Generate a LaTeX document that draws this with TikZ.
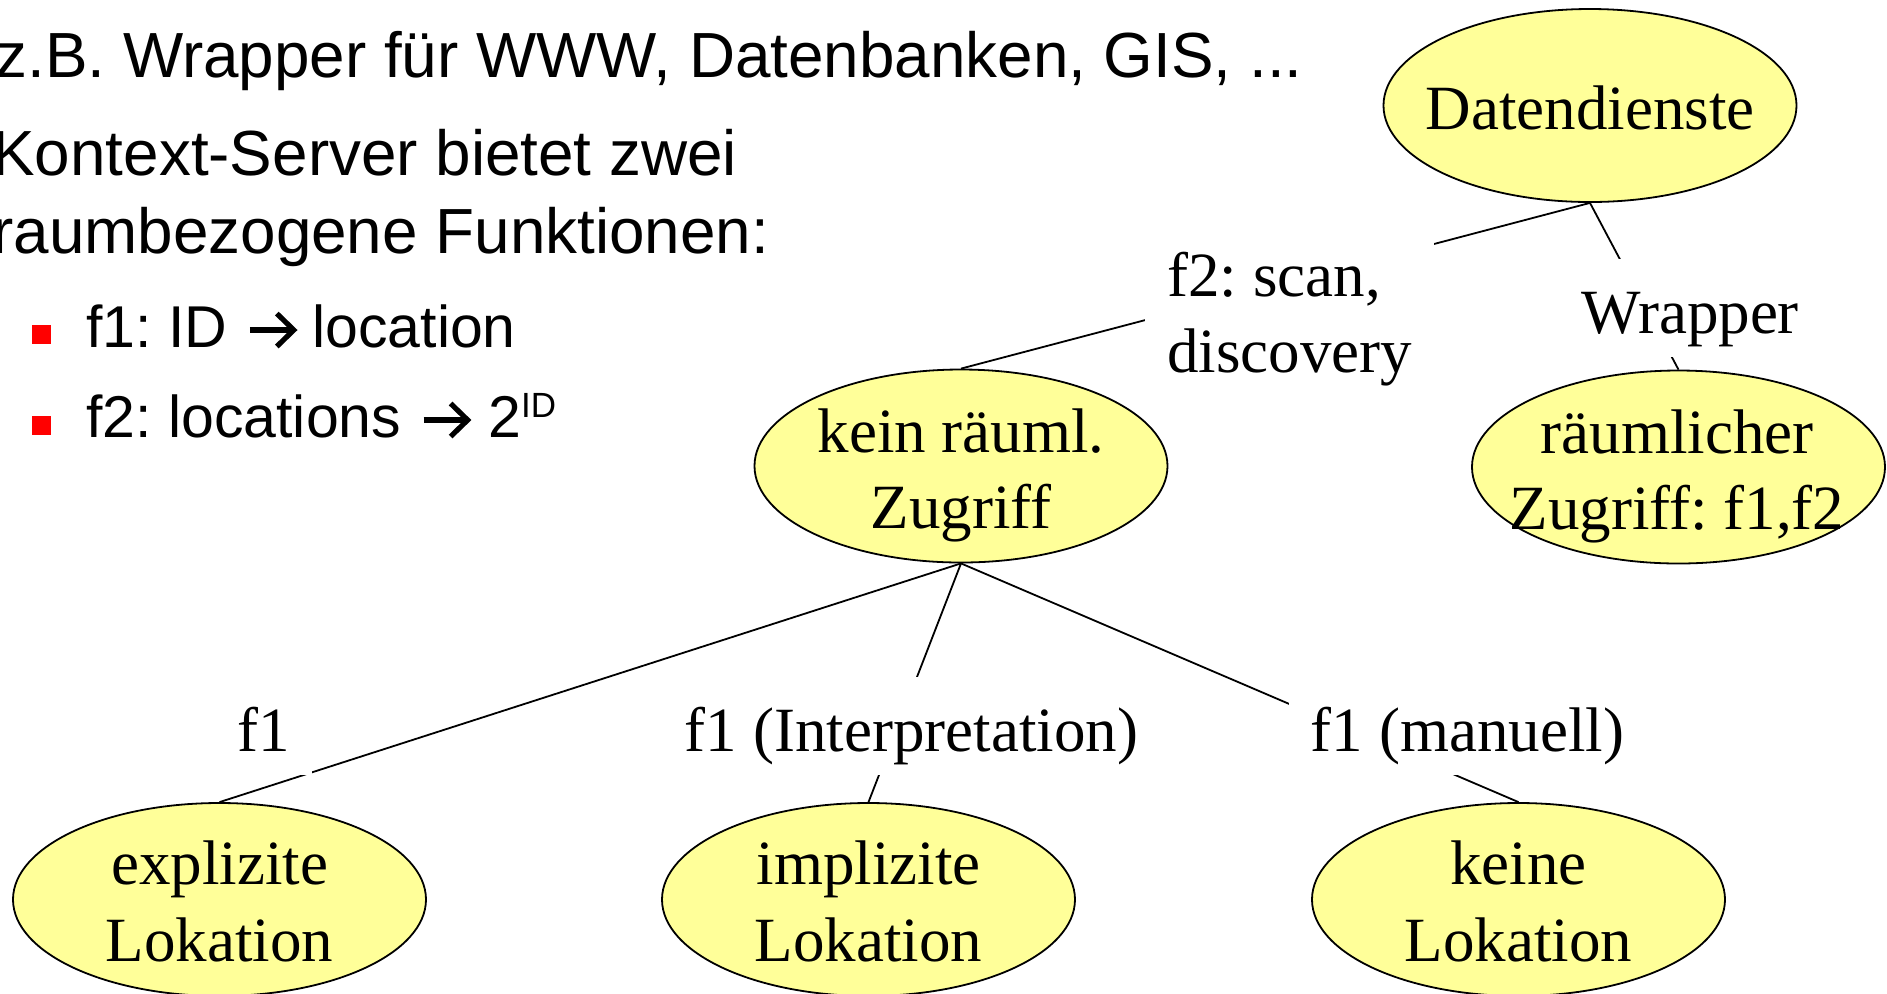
\documentclass[tikz,border=0pt]{standalone}
\usepackage{fontspec}
\setmainfont{Liberation Sans}
\newfontfamily\treeface{Liberation Serif}
\usetikzlibrary{shapes.geometric,calc}
\definecolor{nodefill}{HTML}{FFFF99}
\definecolor{bulletred}{HTML}{FF0000}
\frenchspacing

\begin{document}
\begin{tikzpicture}[x=0.5pt, y=-0.5pt,
  bubble/.style={ellipse, draw=black, line width=0.9pt, fill=nodefill,
    minimum width=206.5pt, minimum height=96.5pt, inner sep=0pt},
  edge/.style={draw=black, line width=0.9pt},
  tree/.style={font=\treeface\fontsize{31.5pt}{38pt}\selectfont, inner sep=0pt, anchor=base},
  tag/.style={font=\treeface\fontsize{31.5pt}{38pt}\selectfont, fill=white,
    inner xsep=11pt, inner ysep=0pt, text height=37pt, text depth=12pt, anchor=base},
  body/.style={font=\fontsize{31.9pt}{38pt}\selectfont, inner sep=0pt, anchor=base west},
  sub/.style={font=\fontsize{29.5pt}{36pt}\selectfont, inner sep=0pt, anchor=base west},
  sq/.style={fill=bulletred, minimum size=9.5pt, inner sep=0pt},
  wing/.pic={
    \draw[line width=2.6pt] (0,0) -- (43,0);
    \draw[line width=2.6pt, line join=miter] (27,-16.5) -- (44,0) -- (27,16.5);
  }
]
\useasboundingbox (0,0) rectangle (1887,993);

% tree nodes
\node[bubble] (dd)    at (1590,105.5) {};
\node[bubble] (rz)    at (1678.5,467) {};
\node[bubble] (kein)  at (961,466) {};
\node[bubble] (expl)  at (219.5,899.5) {};
\node[bubble] (impl)  at (868.5,899.5) {};
\node[bubble] (keine) at (1518.5,899.5) {};

% tree edges
\draw[edge] (dd.south) -- (kein.north);
\draw[edge] (dd.south) -- (rz.north);
\draw[edge] (kein.south) -- (expl.north);
\draw[edge] (kein.south) -- (impl.north);
\draw[edge] (kein.south) -- (keine.north);

% edge labels (white boxes over the edges)
\node[font=\treeface\fontsize{31.5pt}{38pt}\selectfont, fill=white, inner xsep=11pt,
  inner ysep=0pt, align=left, anchor=north west] (scan) at (1145,222)
  {\rule{0pt}{37pt}f2: scan,\\discovery\rule[-12pt]{0pt}{12pt}};
\node[tag] (wrap) at (1690,333) {Wrapper};
\node[tag] (fa) at (264,751) {f1};
\node[tag] (fb) at (911.5,751) {f1 (Interpretation)};
\node[tag] (fc) at (1467.5,751) {f1 (manuell)};

% node texts
\node[tree] (dd-t)    at ($(dd)+(0,24)$) {Datendienste};
\node[tree] (rz-t1)   at ($(rz)+(-1.5,-14)$) {räumlicher};
\node[tree] (rz-t2)   at ($(rz)+(-1.5,62)$) {Zugriff: f1,f2};
\node[tree] (kein-t1) at ($(kein)+(0,-14)$) {kein räuml.};
\node[tree] (kein-t2) at ($(kein)+(0,62)$) {Zugriff};
\node[tree] (expl-t1) at ($(expl)+(0,-15.5)$) {explizite};
\node[tree] (expl-t2) at ($(expl)+(0,61.5)$) {Lokation};
\node[tree] (impl-t1) at ($(impl)+(0,-15.5)$) {implizite};
\node[tree] (impl-t2) at ($(impl)+(0,61.5)$) {Lokation};
\node[tree] (keine-t1) at ($(keine)+(0,-15.5)$) {keine};
\node[tree] (keine-t2) at ($(keine)+(0,61.5)$) {Lokation};

% left text block
\node[body] (t1) at (-5,77) {z.B. Wrapper für WWW, Datenbanken, GIS, ...};
\node[body] (t2) at (-8,175) {Kontext-Server bietet zwei};
\node[body] (t3) at (-8,253) {raumbezogene Funktionen:};

\node[sq] (sq1) at (41.5,334) {};
\node[sq] (sq2) at (41.5,425) {};

\node[sub] (f1a) at (86,347) {f1: ID};
\pic at ($(f1a.base east)+(22,-17)$) {wing};
\node[sub] (f1b) at (312,347) {location};

\node[sub] (f2a) at (86,437) {f2: locations};
\pic at ($(f2a.base east)+(22,-17)$) {wing};
\node[sub] (f2b) at (488,437) {2\raisebox{10pt}{\fontsize{17.5pt}{20pt}\selectfont ID}};
\end{tikzpicture}
\end{document}
